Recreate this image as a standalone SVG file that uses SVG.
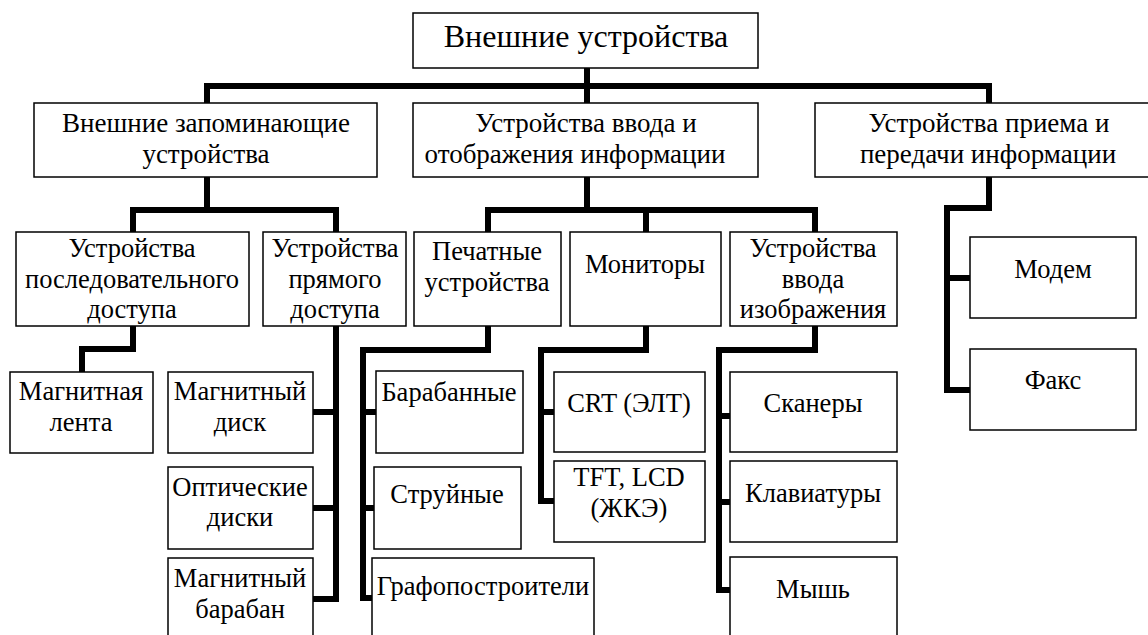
<svg xmlns="http://www.w3.org/2000/svg" width="1148" height="635" viewBox="0 0 1148 635">
<style>
  .box { fill: #fff; stroke: #000; stroke-width: 1.5; }
  .t { font-size: 26.5px; fill: #000; text-anchor: middle; }
  .l2 { font-size: 27px; }
  .root { font-size: 32px; }
  .conn { fill: none; stroke: #000; stroke-width: 6; stroke-linejoin: miter; stroke-linecap: butt; }
</style>
<rect x="0" y="0" width="1148" height="635" fill="#fff"/>
<g id="connectors">
  <path class="conn" d="M587 68 V86 M207 106 V86 H989 V106 M587 86 V106"/>
  <path class="conn" d="M207 177 V210 M133 235 V210 H336 V235"/>
  <path class="conn" d="M587 177 V210 M488 235 V210 H815 V235 M646 210 V235"/>
  <path class="conn" d="M989 177 V208 H947 V390 H970 M947 278 H970"/>
  <path class="conn" d="M133 326 V349 H82 V372"/>
  <path class="conn" d="M336 326 V599 H313 M336 412 H313 M336 508 H313"/>
  <path class="conn" d="M488 326 V350 H363 V598 H372 M363 412 H376 M363 508 H374"/>
  <path class="conn" d="M646 326 V350 H541 V501 H554 M541 412 H554"/>
  <path class="conn" d="M815 326 V350 H719 V590 H730 M719 416 H730 M719 502 H730"/>
</g>
<g class="t" font-family="'Liberation Serif', Tinos, 'Times New Roman', 'DejaVu Serif', serif">
<g id="n-root"><rect class="box" x="413" y="13" width="345" height="55"/><text class="root" x="586" y="47">Внешние устройства</text></g>
<g id="n-storage" class="l2"><rect class="box" x="34" y="103" width="343" height="74"/><text x="206" y="132">Внешние запоминающие</text><text x="206" y="163">устройства</text></g>
<g id="n-io" class="l2"><rect class="box" x="413" y="103" width="345" height="74"/><text x="586" y="132">Устройства ввода и</text><text x="575" y="163">отображения информации</text></g>
<g id="n-comm" class="l2"><rect class="box" x="815" y="103" width="350" height="74"/><text x="989" y="132">Устройства приема и</text><text x="988" y="163">передачи информации</text></g>
<g id="n-seq"><rect class="box" x="16" y="232" width="233" height="94"/><text x="132" y="257">Устройства</text><text x="132" y="288">последовательного</text><text x="132" y="318">доступа</text></g>
<g id="n-direct"><rect class="box" x="263" y="232" width="143" height="94"/><text x="335" y="257">Устройства</text><text x="335" y="288">прямого</text><text x="335" y="318">доступа</text></g>
<g id="n-print"><rect class="box" x="414" y="232" width="147" height="94"/><text x="487" y="260">Печатные</text><text x="487" y="291">устройства</text></g>
<g id="n-mon"><rect class="box" x="570" y="232" width="151" height="94"/><text x="645" y="273">Мониторы</text></g>
<g id="n-imgin"><rect class="box" x="730" y="232" width="167" height="94"/><text x="813" y="257">Устройства</text><text x="813" y="288">ввода</text><text x="813" y="318">изображения</text></g>
<g id="n-tape"><rect class="box" x="10" y="372" width="143" height="81"/><text x="81" y="400">Магнитная</text><text x="81" y="431">лента</text></g>
<g id="n-mdisk"><rect class="box" x="168" y="372" width="145" height="81"/><text x="240" y="400">Магнитный</text><text x="240" y="431">диск</text></g>
<g id="n-odisk"><rect class="box" x="168" y="467" width="145" height="82"/><text x="240" y="496">Оптические</text><text x="240" y="526">диски</text></g>
<g id="n-drum"><rect class="box" x="168" y="558" width="145" height="100"/><text x="240" y="587">Магнитный</text><text x="240" y="618">барабан</text></g>
<g id="n-drumpr"><rect class="box" x="376" y="371" width="147" height="82"/><text x="449" y="401">Барабанные</text></g>
<g id="n-jet"><rect class="box" x="374" y="467" width="147" height="82"/><text x="447" y="503">Струйные</text></g>
<g id="n-plot"><rect class="box" x="372" y="558" width="222" height="100"/><text x="483" y="595">Графопостроители</text></g>
<g id="n-crt"><rect class="box" x="554" y="372" width="151" height="80"/><text x="629" y="412">CRT (ЭЛТ)</text></g>
<g id="n-tft"><rect class="box" x="554" y="461" width="151" height="81"/><text x="629" y="486">TFT, LCD</text><text x="629" y="517">(ЖКЭ)</text></g>
<g id="n-scan"><rect class="box" x="730" y="372" width="167" height="80"/><text x="813" y="412">Сканеры</text></g>
<g id="n-kbd"><rect class="box" x="730" y="461" width="167" height="81"/><text x="813" y="502">Клавиатуры</text></g>
<g id="n-mouse"><rect class="box" x="730" y="557" width="167" height="100"/><text x="813" y="598">Мышь</text></g>
<g id="n-modem"><rect class="box" x="970" y="237" width="166" height="81"/><text x="1053" y="278">Модем</text></g>
<g id="n-fax"><rect class="box" x="970" y="349" width="166" height="81"/><text x="1053" y="389">Факс</text></g>
</g>
</svg>
